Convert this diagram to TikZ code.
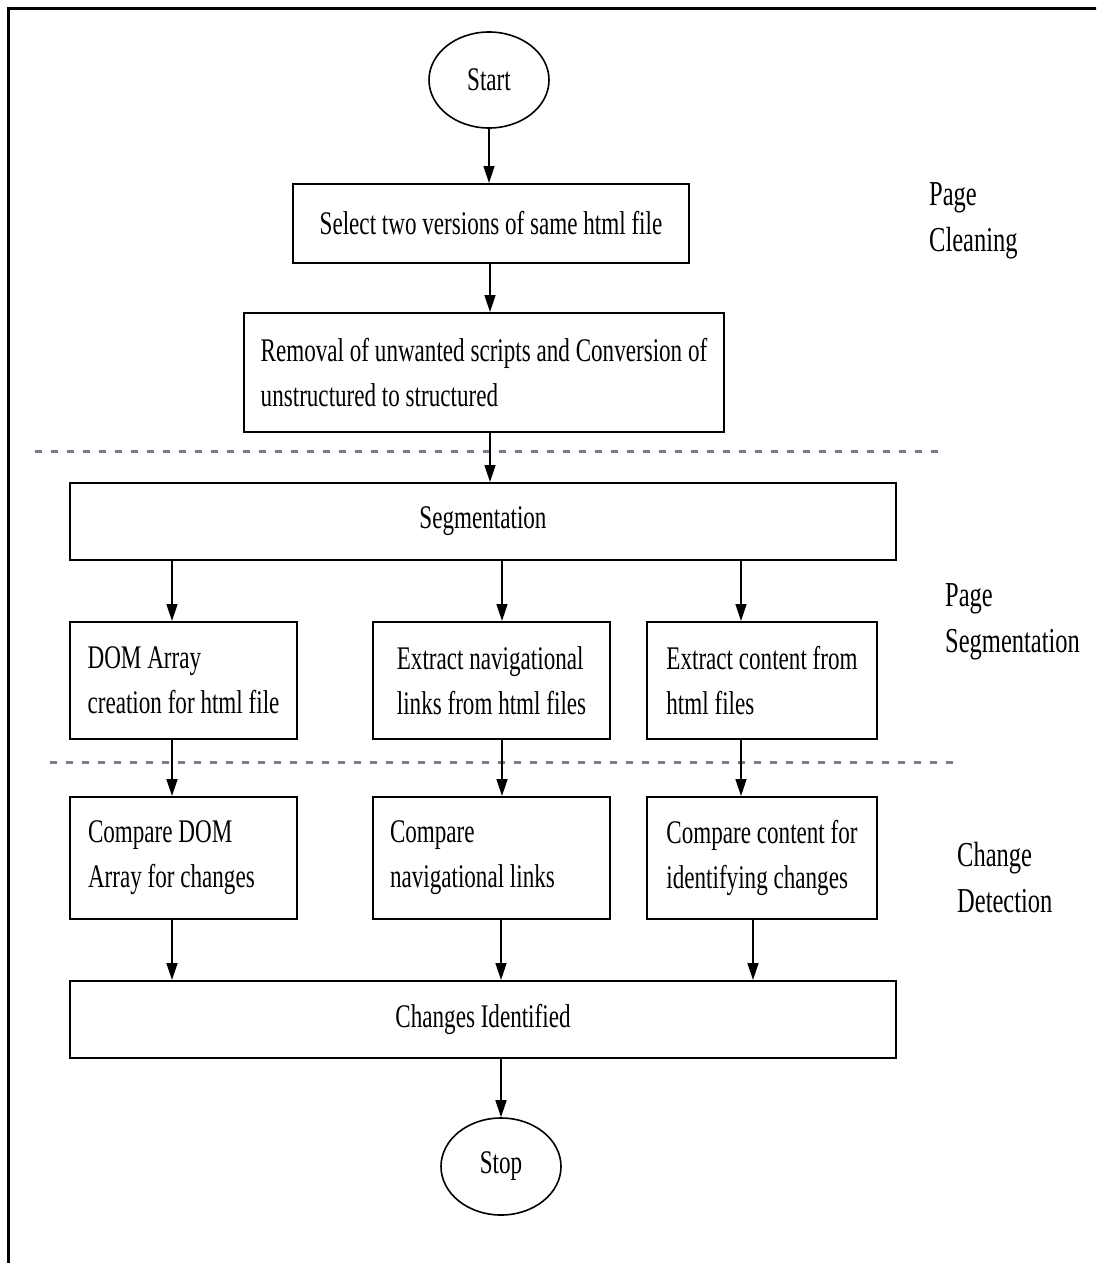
\documentclass[tikz,border=0pt]{standalone}
\usepackage{fontspec}
\newfontfamily\flowfont[FakeStretch=0.70]{Liberation Serif}
\usetikzlibrary{shapes.geometric,arrows.meta}
\definecolor{sepgray}{RGB}{118,126,140}
\begin{document}
\begin{tikzpicture}[x=1pt,y=-1pt,
  every node/.style={font=\flowfont\fontsize{33}{45}\selectfont, text=black},
  box/.style={draw=black, line width=2pt, fill=white, rectangle, align=left, inner sep=0pt},
  term/.style={draw=black, line width=1.6pt, fill=white, ellipse, inner sep=0pt,
               minimum width=120pt, minimum height=96pt},
  phase/.style={anchor=west, align=left, inner sep=0pt,
                font=\flowfont\fontsize{35}{46}\selectfont},
  arr/.style={line width=1.6pt, -{Triangle[length=17pt,width=11pt]}},
  sep/.style={draw=sepgray, line width=3pt, dash pattern=on 7pt off 9pt}]

% page frame
\useasboundingbox (0,0) rectangle (1096,1263);
\clip (0,0) rectangle (1096,1263);
\draw[line width=3pt] (8,1290) -- (8,9) -- (1120,9);

% phase separators
\draw[sep] (35,451) -- (943,451);
\draw[sep] (50,762) -- (958,762);

% flow nodes
\node[term] (start) at (489,80) {Start};
\node[box, minimum width=396pt, minimum height=79pt] (sel) at (491,223.5)
  {Select two versions of same html file};
\node[box, minimum width=480pt, minimum height=119pt] (rem) at (484,372.5)
  {Removal of unwanted scripts and Conversion of\\unstructured to structured};
\node[box, minimum width=826pt, minimum height=77pt] (seg) at (483,521.5) {Segmentation};

\node[box, minimum width=227pt, minimum height=117pt] (dom) at (183.5,680.5)
  {DOM Array\\creation for html file};
\node[box, minimum width=237pt, minimum height=117pt] (nav) at (491.5,680.5)
  {Extract navigational\\links from html files};
\node[box, minimum width=230pt, minimum height=117pt] (cont) at (762,680.5)
  {Extract content from\\html files};

\node[box, minimum width=227pt, minimum height=122pt, text width=191pt, inner xsep=18pt,
      align=flush left] (cdom) at (183.5,858)
  {Compare DOM\\Array for changes};
\node[box, minimum width=237pt, minimum height=122pt, text width=203pt, inner xsep=17pt,
      align=flush left] (cnav) at (491.5,858)
  {Compare\\navigational links};
\node[box, minimum width=230pt, minimum height=122pt] (ccont) at (762,858)
  {Compare content for\\identifying changes};

\node[box, minimum width=826pt, minimum height=77pt] (chg) at (483,1019.5) {Changes Identified};
\node[term, minimum height=97pt] (stop) at (501,1166.5) {Stop};

% phase labels
\node[phase] (lclean) at (929,221) {Page\\Cleaning};
\node[phase] (lseg) at (945,622) {Page\\Segmentation};
\node[phase] (ldet) at (957,878) {Change\\Detection};

% arrow columns
\coordinate (xm) at (490,0);
\coordinate (xa) at (172,0);
\coordinate (xb) at (502,0);
\coordinate (xc) at (741,0);
\coordinate (xd) at (753,0);
\coordinate (xs) at (501,0);

% connectors
\draw[arr] (start.south) -- (start.south |- sel.north);
\draw[arr] (sel.south -| xm) -- (rem.north -| xm);
\draw[arr] (rem.south -| xm) -- (seg.north -| xm);

\draw[arr] (seg.south -| xa) -- (dom.north -| xa);
\draw[arr] (seg.south -| xb) -- (nav.north -| xb);
\draw[arr] (seg.south -| xc) -- (cont.north -| xc);

\draw[arr] (dom.south -| xa) -- (cdom.north -| xa);
\draw[arr] (nav.south -| xb) -- (cnav.north -| xb);
\draw[arr] (cont.south -| xc) -- (ccont.north -| xc);

\draw[arr] (cdom.south -| xa) -- (chg.north -| xa);
\draw[arr] (cnav.south -| xs) -- (chg.north -| xs);
\draw[arr] (ccont.south -| xd) -- (chg.north -| xd);

\draw[arr] (chg.south -| xs) -- (stop.north);
\end{tikzpicture}
\end{document}
